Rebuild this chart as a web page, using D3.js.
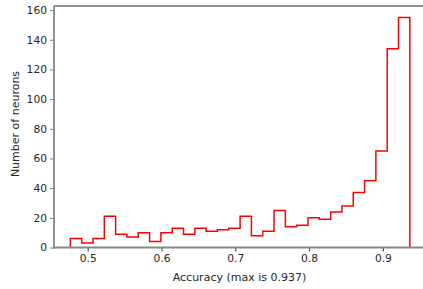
<!DOCTYPE html>
<html><head><meta charset="utf-8">
<script src="https://cdn.jsdelivr.net/npm/d3@7"></script>
<style>
html,body{margin:0;padding:0;background:#fff;}
svg{display:block;font-family:"DejaVu Sans",sans-serif;}
</style></head>
<body>
<svg id="c" width="423" height="289"></svg>
<script>
const counts = [6,3,6,21,9,7,10,4,10,13,9,13,11,12,13,21,8,11,25,14,15,20,19,24,28,37,45,65,134,155];
const binMin = 0.4765, binMax = 0.9365;
const xTicks = [0.5,0.6,0.7,0.8,0.9];
const yTicks = [0,20,40,60,80,100,120,140,160];
const xLabel = "Accuracy (max is 0.937)";
const yLabel = "Number of neurons";

(function(){
const svg = d3.select("#c");
const mLeft = 54, mTop = 6, mBottom = 247.5, mRight = 423;
const n = counts.length;
const edges = d3.range(n+1).map(i => binMin + i*(binMax-binMin)/n);
const x = d3.scaleLinear().domain([0.5, 0.9]).range([87.7, 382.9]);
const y = d3.scaleLinear().domain([0, d3.max(counts)*1.05]).range([mBottom, mTop]);

const pts = [[edges[0],0]];
counts.forEach((c,i)=>{ pts.push([edges[i],c]); pts.push([edges[i+1],c]); });
pts.push([edges[n],0]);
const line = d3.line().x(d=>x(d[0])).y(d=>y(d[1]));
svg.append("path").attr("d", line(pts)).attr("fill","none").attr("stroke","#ff0000").attr("stroke-width",1.5).attr("stroke-linejoin","miter");

const fs = "10.7px";
const gx = svg.append("g").attr("transform",`translate(0,${mBottom})`)
  .call(d3.axisBottom(x).tickValues(xTicks).tickFormat(d3.format(".1f")).tickSize(4).tickPadding(3));
gx.select(".domain").remove();
gx.selectAll(".tick line").attr("stroke","#333").attr("stroke-width",1);
gx.selectAll(".tick text").attr("fill","#262626").style("font-size",fs).style("font-family","DejaVu Sans");

const gy = svg.append("g").attr("transform",`translate(${mLeft},0)`)
  .call(d3.axisLeft(y).tickValues(yTicks).tickSize(4).tickPadding(3));
gy.select(".domain").remove();
gy.selectAll(".tick line").attr("stroke","#808080").attr("stroke-width",1);
gy.selectAll(".tick text").attr("fill","#262626").style("font-size",fs).style("font-family","DejaVu Sans");

svg.append("line").attr("x1",mLeft).attr("x2",mRight).attr("y1",mTop).attr("y2",mTop).attr("stroke","#222").attr("stroke-width",1);
svg.append("line").attr("x1",mLeft).attr("x2",mLeft).attr("y1",mTop).attr("y2",mBottom+1).attr("stroke","#888").attr("stroke-width",1.8);
svg.append("line").attr("x1",mLeft-1).attr("x2",mRight).attr("y1",mBottom).attr("y2",mBottom).attr("stroke","#888").attr("stroke-width",1.8);

svg.append("text").attr("x",239.5).attr("y",280.5).attr("text-anchor","middle").attr("fill","#262626").style("font-size","11px").text(xLabel);
svg.append("text").attr("transform",`translate(19,124) rotate(-90)`).attr("text-anchor","middle").attr("fill","#262626").style("font-size","11px").text(yLabel);
})();
</script>
</body></html>
